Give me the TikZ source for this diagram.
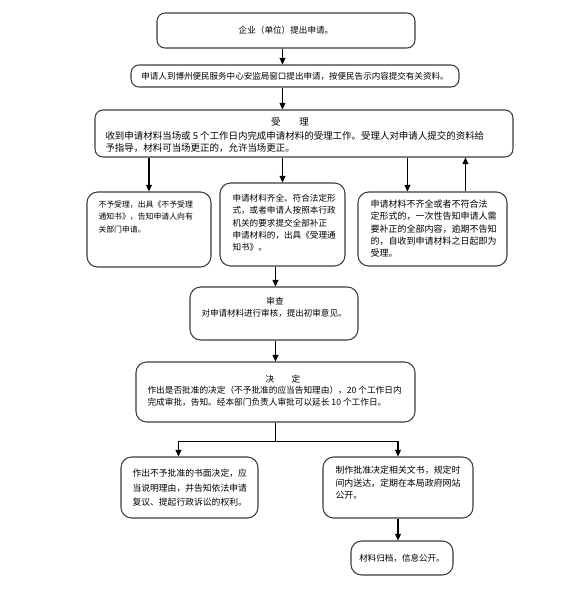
\documentclass[tikz,border=0pt]{standalone}
\usepackage{fontspec}
\setmainfont{Noto Sans CJK SC}
\usetikzlibrary{arrows.meta,calc}

\definecolor{boxline}{RGB}{60,60,60}
\newcommand{\fsz}[2]{\fontsize{#1}{#2}\selectfont}

\tikzset{every picture/.style={line width=0.75pt}}
\tikzset{
  flowbox/.style={draw=boxline, rounded corners=6pt, inner sep=0pt, line width=0.8pt},
  smallbox/.style={flowbox, rounded corners=8pt},
  txt/.style={anchor=north west, inner sep=0pt, align=left},
  head/.style={inner sep=0pt},
  arr/.style={-{Triangle[length=5pt,width=4.5pt]}, line width=0.9pt}
}

\begin{document}
\begin{tikzpicture}[x=0.75pt,y=0.75pt,yscale=-1,xscale=1]
\useasboundingbox (0,0) rectangle (583,593);

%Shape: Rounded Rectangle [application]
\node[flowbox, minimum width=193.5pt, minimum height=26.25pt, font=\fsz{6.45}{9}] (b1) at (286,30.5) {企业（单位）提出申请。};
%Shape: Rounded Rectangle [window]
\node[flowbox, minimum width=246pt, minimum height=16.5pt, font=\fsz{6.4}{9}] (b2) at (295,76) {申请人到博州便民服务中心安监局窗口提出申请，按便民告示内容提交有关资料。};
%Shape: Rounded Rectangle [accept]
\node[flowbox, minimum width=313.5pt, minimum height=35.25pt] (b3) at (304,133.5) {};
%Shape: Rounded Rectangle [refuse]
\node[smallbox, minimum width=93pt, minimum height=56.25pt] (b4) at (149,229.5) {};
%Shape: Rounded Rectangle [complete]
\node[smallbox, minimum width=93.75pt, minimum height=62.25pt] (b5) at (282.5,224.5) {};
%Shape: Rounded Rectangle [incomplete]
\node[smallbox, minimum width=111.75pt, minimum height=55.5pt] (b6) at (432.5,229) {};
%Shape: Rounded Rectangle [review]
\node[smallbox, minimum width=126pt, minimum height=39.75pt] (b7) at (274,313.5) {};
%Shape: Rounded Rectangle [decide]
\node[smallbox, minimum width=209.25pt, minimum height=45pt] (b8) at (275.5,392) {};
%Shape: Rounded Rectangle [reject]
\node[smallbox, minimum width=102.75pt, minimum height=45.75pt] (b9) at (189.5,487.5) {};
%Shape: Rounded Rectangle [approve]
\node[smallbox, minimum width=112.5pt, minimum height=45.75pt] (b10) at (398,487.5) {};
%Shape: Rounded Rectangle [archive]
\node[smallbox, minimum width=76.5pt, minimum height=25.5pt, font=\fsz{6.4}{9}] (b11) at (402,558) {材料归档，信息公开。};

% Text Node
\node[head, font=\fsz{7.1}{8.6}] (h3) at (290,122) {受　　理};
% Text Node
\node[txt, font=\fsz{7.1}{8.6}] (t3) at (105,131.3) {收到申请材料当场或 5 个工作日内完成申请材料的受理工作。受理人对申请人提交的资料给\\予指导，材料可当场更正的，允许当场更正。};
% Text Node
\node[txt, font=\fsz{5.9}{9.4}] (t4) at (98,200) {不予受理，出具《不予受理\\通知书》，告知申请人向有\\关部门申请。};
% Text Node
\node[txt, font=\fsz{6.45}{9.2}] (t5) at (232,193.7) {申请材料齐全、符合法定形\\式，或者申请人按照本行政\\机关的要求提交全部补正\\申请材料的，出具《受理通\\知书》。};
% Text Node
\node[txt, font=\fsz{6.75}{9.2}] (t6) at (370,199.5) {申请材料不齐全或者不符合法\\定形式的，一次性告知申请人需\\要补正的全部内容，逾期不告知\\的，自收到申请材料之日起即为\\受理。};
% Text Node
\node[head, font=\fsz{6.4}{9}] (h7) at (275,301) {审查};
% Text Node
\node[txt, font=\fsz{6.4}{9}] (t7) at (201,308.7) {对申请材料进行审核，提出初审意见。};
% Text Node
\node[head, font=\fsz{6.5}{8.9}] (h8) at (283,379) {决　　定};
% Text Node
\node[txt, font=\fsz{6.5}{8.9}] (t8) at (147,385.6) {作出是否批准的决定（不予批准的应当告知理由），20 个工作日内\\完成审批，告知。经本部门负责人审批可以延长 10 个工作日。};
% Text Node
\node[txt, font=\fsz{6.6}{10.9}] (t9) at (132,468.6) {作出不予批准的书面决定，应\\当说明理由，并告知依法申请\\复议、提起行政诉讼的权利。};
% Text Node
\node[txt, font=\fsz{6.7}{9.4}] (t10) at (335,465.5) {制作批准决定相关文书，规定时\\间内送达，定期在本局政府网站\\公开。};

% Free ends of connectors
\coordinate (b6in) at ($(b6.north west)+(50,0)$);
\coordinate (b6out) at ($(b6.north west)+(108,0)$);
\coordinate (b9in) at ($(b9.north west)+(58,0)$);
\coordinate (split) at ($(b8.south)+(0,19)$);

%Straight Lines
\draw[arr] (b1.south -| b5.north) -- (b2.north -| b5.north);
\draw[arr] (b2.south -| b5.north) -- (b3.north -| b5.north);
\draw[arr] (b3.south -| b4.north) -- (b4.north);
\draw[arr] (b3.south -| b5.north) -- (b5.north);
\draw[arr] (b3.south -| b6in) -- (b6in);
\draw[arr] (b6out) -- (b3.south -| b6out);
\draw[arr] (b5.south -| b8.north) -- (b7.north -| b8.north);
\draw[arr] (b7.south -| b8.north) -- (b8.north);
\draw[arr] (b8.south) -- (split) -| (b9in);
\draw[arr] (split) -| (b10.north);
\draw[arr] (b10.south) -- (b10.south |- b11.north);

\end{tikzpicture}
\end{document}
